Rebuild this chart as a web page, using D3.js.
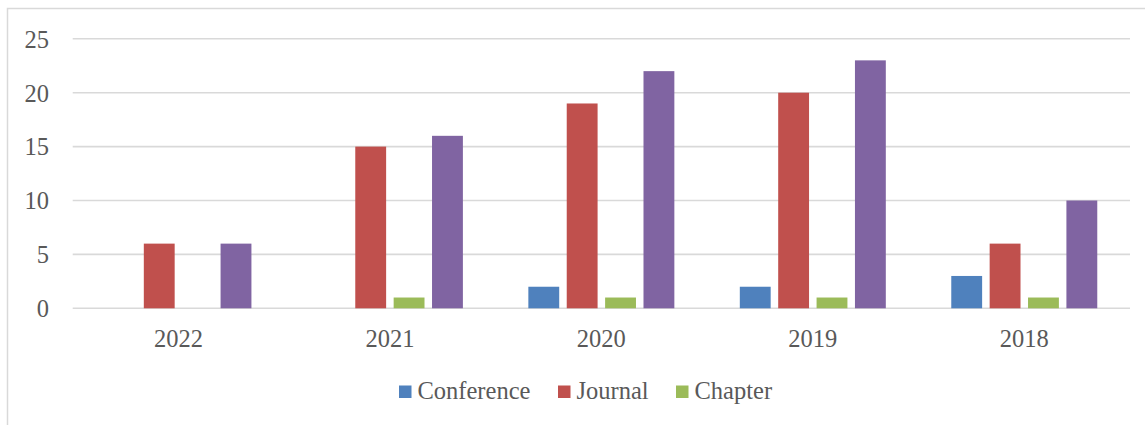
<!DOCTYPE html>
<html><head><meta charset="utf-8">
<script src="https://cdn.jsdelivr.net/npm/d3@7"></script>
<style>body{margin:0;background:#fff}svg{display:block}</style>
</head><body><svg id="c" width="1145" height="425"></svg>
<script>
const categories = ["2022","2021","2020","2019","2018"];
const seriesNames = ["Conference","Journal","Chapter","Total"];
const conference = [0,0,2,2,3];
const journal = [6,15,19,20,6];
const chapter = [0,1,1,1,1];
const total = [6,16,22,23,10];
const yTicks = [0,5,10,15,20,25];
const colors = ["#4F81BD","#C0504D","#9BBB59","#8064A2"];
const legendNames = ["Conference","Journal","Chapter"];

const series = [conference, journal, chapter, total];
const svg = d3.select("#c");
const font = "'Liberation Serif', serif";
const textColor = "#595959";
const fs = 24.5;

svg.append("rect").attr("x",7.5).attr("y",8.5).attr("width",1145).attr("height",425)
  .attr("fill","none").attr("stroke","#D9D9D9").attr("stroke-width",1.5);

const pLeft = 72.7, pRight = 1130, pTop = 38.8, pBottom = 308.3;
const x = d3.scaleBand().domain(categories).range([pLeft,pRight]).paddingInner(0).paddingOuter(0);
const y = d3.scaleLinear().domain([0,25]).range([pBottom,pTop]);
const groupW = 146;
const xs = d3.scaleBand().domain(seriesNames).range([0,groupW]).paddingInner(0.196).paddingOuter(0);

// gridlines
svg.append("g").selectAll("line").data(yTicks).join("line")
  .attr("x1",pLeft).attr("x2",pRight)
  .attr("y1",d=>y(d)).attr("y2",d=>y(d))
  .attr("stroke","#D9D9D9").attr("stroke-width",1.6);

// y labels
svg.append("g").selectAll("text").data(yTicks).join("text")
  .attr("x",49).attr("y",d=>y(d)).attr("dy","0.36em")
  .attr("text-anchor","end").attr("font-family",font).attr("font-size",fs)
  .attr("fill",textColor).text(d=>d);

// bars
series.forEach((vals,si)=>{
  svg.append("g").selectAll("rect").data(vals.map((v,i)=>({v,c:categories[i]}))).join("rect")
    .attr("x",d=>x(d.c)+x.bandwidth()/2-groupW/2+xs(seriesNames[si]))
    .attr("width",xs.bandwidth())
    .attr("y",d=>y(d.v))
    .attr("height",d=>y(0)-y(d.v))
    .attr("fill",colors[si]);
});

// x labels
svg.append("g").selectAll("text").data(categories).join("text")
  .attr("x",d=>x(d)+x.bandwidth()/2).attr("y",347)
  .attr("text-anchor","middle").attr("font-family",font).attr("font-size",fs)
  .attr("fill",textColor).text(d=>d);

// legend
const legX = [399,558,676];
const lg = svg.append("g");
legendNames.forEach((n,i)=>{
  lg.append("rect").attr("x",legX[i]).attr("y",385.5).attr("width",12.5).attr("height",12.5).attr("fill",colors[i]);
  lg.append("text").attr("x",legX[i]+18.5).attr("y",399).attr("font-family",font).attr("font-size",fs)
    .attr("fill",textColor).text(n);
});
</script></body></html>
